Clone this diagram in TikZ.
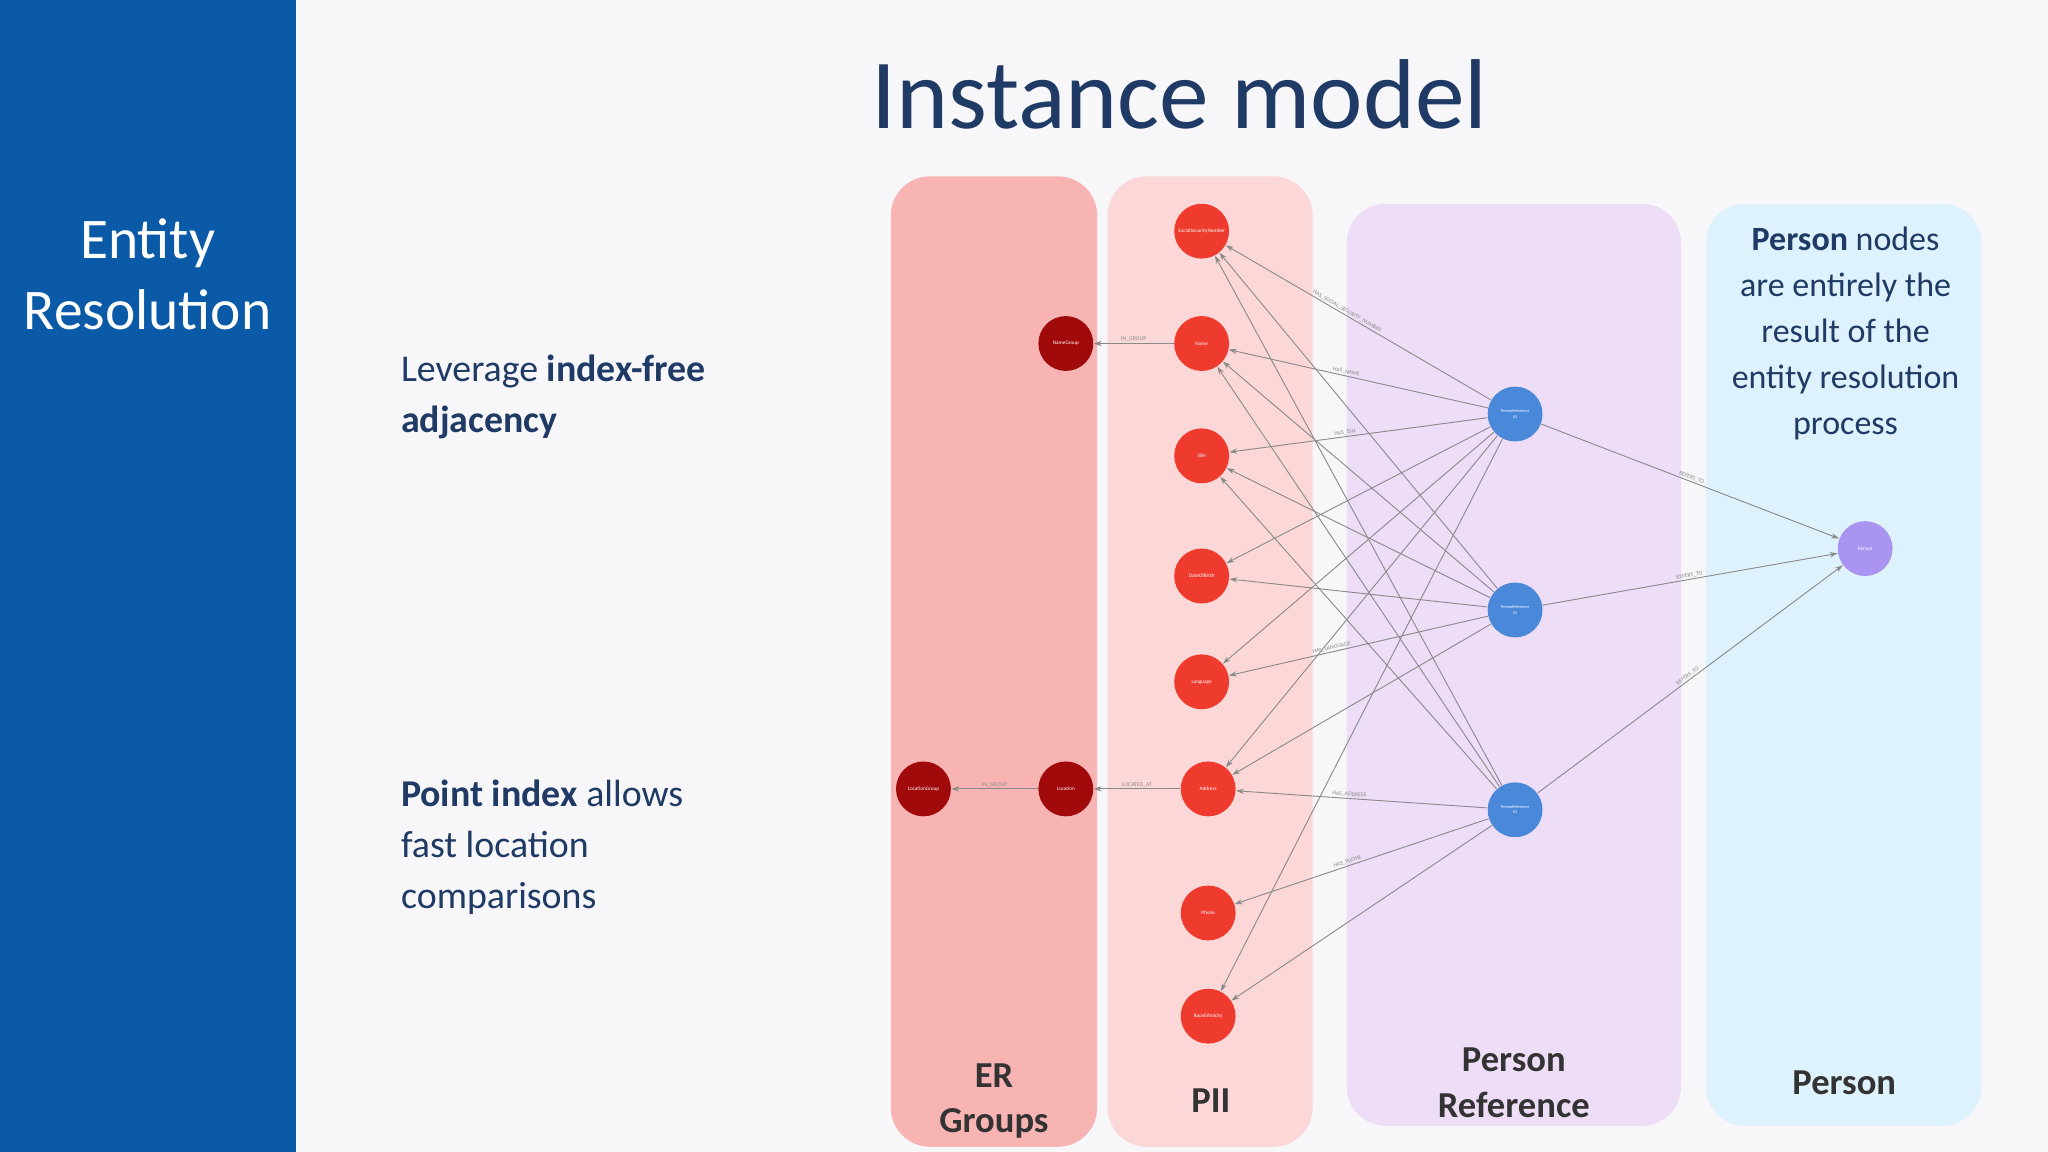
\documentclass[tikz,border=0pt]{standalone}
\usepackage{fontspec}
\setmainfont{Carlito}
\usetikzlibrary{arrows.meta}
\definecolor{bluepanel}{HTML}{0A5AA8}
\definecolor{navy}{HTML}{1F3A64}
\definecolor{bgc}{HTML}{F7F7FA}
\definecolor{ergc}{HTML}{F8B3B3}
\definecolor{piic}{HTML}{FBD7D7}
\definecolor{prefc}{HTML}{EEDDF6}
\definecolor{perc}{HTML}{DDF2FC}
\definecolor{piinode}{HTML}{EE3B2E}
\definecolor{ernode}{HTML}{A00A0A}
\definecolor{refnode}{HTML}{4A88DA}
\definecolor{pernode}{HTML}{A994F2}
\definecolor{edgec}{HTML}{8A8A8A}
\definecolor{labc}{HTML}{333333}
\tikzset{
 col/.style={rounded corners=15pt},
 pii/.style={circle,fill=piinode,minimum size=21pt,inner sep=0pt,text=white,font=\fontsize{2}{2}\selectfont},
 ern/.style={circle,fill=ernode,minimum size=21pt,inner sep=0pt,text=white,font=\fontsize{2}{2}\selectfont},
 refn/.style={circle,fill=refnode,minimum size=21pt,inner sep=0pt,text=white,font=\fontsize{1.6}{2}\selectfont},
 pern/.style={circle,fill=pernode,minimum size=21pt,inner sep=0pt,text=white,font=\fontsize{2}{2}\selectfont},
 edge/.style={draw=edgec,line width=0.35pt,-{Stealth[length=3pt,width=2pt]}},
 elab/.style={sloped,font=\fontsize{2.2}{2.2}\selectfont,text=edgec,inner sep=0.5pt},
 collab/.style={font=\fontsize{14}{17.5}\selectfont\bfseries,text=labc,align=center},
}
\begin{document}
\begin{tikzpicture}[x=0.5pt,y=-0.5pt]
\useasboundingbox (0,0) rectangle (1568,882);
\fill[bgc] (0,0) rectangle (1568,882);
\fill[bluepanel] (0,0) rectangle (227,882);
\node[text=white,font=\fontsize{22}{27}\selectfont,align=center] (ent) at (113,210) {Entity\\Resolution};
\node[text=navy,font=\fontsize{38}{40}\selectfont] (title) at (903,72) {Instance model};
\node[text=navy,font=\fontsize{14.5}{19.5}\selectfont,align=left,anchor=north west] (t1) at (300,265) {Leverage \textbf{index-free}\\\textbf{adjacency}};
\node[text=navy,font=\fontsize{14.5}{19.5}\selectfont,align=left,anchor=north west] (t2) at (300,590) {\textbf{Point index} allows\\fast location\\comparisons};
% columns
\fill[ergc,col] (682,135) rectangle (840,878);
\fill[piic,col] (848,135) rectangle (1005,878);
\fill[prefc,col] (1031,156) rectangle (1287,862);
\fill[perc,col] (1306,156) rectangle (1517,862);
\node[collab] (lab1) at (761,843) {ER\\Groups};
\node[collab] (lab2) at (927,843) {PII};
\node[collab] (lab3) at (1159,829) {Person\\Reference};
\node[collab] (lab4) at (1412,829) {Person};
\node[text=navy,font=\fontsize{13}{17.6}\selectfont,align=center] (ptext) at (1413,255) {\textbf{Person} nodes\\are entirely the\\result of the\\entity resolution\\process};
% nodes
\node[pii] (ssn) at (920,177) {SocialSecurityNumber};
\node[pii] (name) at (920,263) {Name};
\node[pii] (ssn2) at (920,349) {SSN};
\node[pii] (dob) at (920,441) {DateOfBirth};
\node[pii] (lang) at (920,522) {Language};
\node[pii] (addr) at (925,604) {Address};
\node[pii] (phone) at (925,699) {Phone};
\node[pii] (race) at (925,778) {RaceEthnicity};
\node[ern] (ng) at (816,263) {NameGroup};
\node[ern] (loc) at (816,604) {Location};
\node[ern] (lg) at (707,604) {LocationGroup};
\node[refn,align=center] (p1) at (1160,317) {PersonReference\\ID};
\node[refn,align=center] (p2) at (1160,467) {PersonReference\\ID};
\node[refn,align=center] (p3) at (1160,620) {PersonReference\\ID};
\node[pern] (per) at (1428,420) {Person};
% edges
\draw[edge] (name) -- node[elab,above]{IN\_GROUP} (ng);
\draw[edge] (addr) -- node[elab,above]{LOCATED\_AT} (loc);
\draw[edge] (loc) -- node[elab,above]{IN\_GROUP} (lg);
\draw[edge] (p1) -- node[elab,above,pos=0.55]{HAS\_SOCIAL\_SECURITY\_NUMBER} (ssn);
\draw[edge] (p1) -- node[elab,above,pos=0.55]{HAS\_NAME} (name);
\draw[edge] (p1) -- node[elab,above,pos=0.55]{HAS\_SSN} (ssn2);
\draw[edge] (p1) -- (dob);
\draw[edge] (p1) -- (lang);
\draw[edge] (p1) -- (addr);
\draw[edge] (p1) -- (race);
\draw[edge] (p2) -- (ssn);
\draw[edge] (p2) -- (name);
\draw[edge] (p2) -- (ssn2);
\draw[edge] (p2) -- (dob);
\draw[edge] (p2) -- node[elab,above,pos=0.6]{HAS\_LANGUAGE} (lang);
\draw[edge] (p2) -- (addr);
\draw[edge] (p3) -- (ssn);
\draw[edge] (p3) -- (name);
\draw[edge] (p3) -- (ssn2);
\draw[edge] (p3) -- node[elab,above,pos=0.55]{HAS\_ADDRESS} (addr);
\draw[edge] (p3) -- node[elab,above,pos=0.55]{HAS\_PHONE} (phone);
\draw[edge] (p3) -- (race);
\draw[edge] (p1) -- node[elab,above]{REFERS\_TO} (per);
\draw[edge] (p2) -- node[elab,above]{REFERS\_TO} (per);
\draw[edge] (p3) -- node[elab,above]{REFERS\_TO} (per);
\end{tikzpicture}
\end{document}
